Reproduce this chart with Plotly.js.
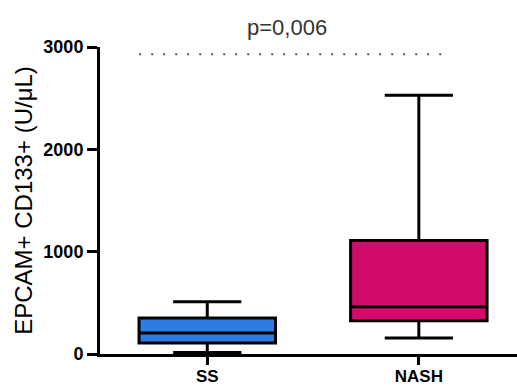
<!DOCTYPE html>
<html><head><meta charset="utf-8">
<script src="https://cdn.plot.ly/plotly-3.0.1.min.js"></script>
<style>html,body{margin:0;padding:0;background:#fff}#chart{width:517px;height:387px}</style>
</head><body><div id="chart"></div>
<script>
const groups = ["SS", "NASH"];
const lowerWhisker = [15, 157];
const q1 = [108, 324];
const median = [206, 461];
const q3 = [353, 1108];
const upperWhisker = [510, 2529];
const fillColors = ["#2b7de3", "#d20a69"];
const pText = "p=0,006";
const pLineY = [2930];
const yTicks = [0, 1000, 2000, 3000];

const traces = groups.map((g, i) => ({
  type: "box",
  name: g,
  x: [g],
  q1: [q1[i]], median: [median[i]], q3: [q3[i]],
  lowerfence: [lowerWhisker[i]], upperfence: [upperWhisker[i]],
  fillcolor: fillColors[i],
  line: {color: "#000", width: 3},
  width: 0.645,
  whiskerwidth: 0.5,
  boxpoints: false,
  hoverinfo: "skip",
  showlegend: false
}));

const layout = {
  width: 517, height: 387,
  margin: {l: 100, r: 0, t: 47, b: 33},
  paper_bgcolor: "#fff", plot_bgcolor: "#fff",
  font: {family: "Liberation Sans, Arial, sans-serif", color: "#000"},
  xaxis: {
    type: "category", categoryarray: groups,
    range: [-0.507, 1.464],
    showline: true, linecolor: "#000", linewidth: 3,
    ticks: "outside", ticklen: 8, tickwidth: 3, tickcolor: "#000",
    ticklabelstandoff: -3,
    showgrid: false, zeroline: false,
    tickfont: {size: 17, family: "Liberation Sans, Arial, sans-serif", weight: "bold"}
  },
  yaxis: {
    range: [0, 3000], tickvals: yTicks, ticktext: yTicks.map(String),
    showline: true, linecolor: "#000", linewidth: 3,
    ticks: "outside", ticklen: 10, tickwidth: 3, tickcolor: "#000",
    showgrid: false, zeroline: false,
    tickfont: {size: 18, family: "Liberation Sans, Arial, sans-serif", weight: "bold"},
    title: {text: "EPCAM+ CD133+ (U/μL)", font: {size: 24}, standoff: 4}
  },
  shapes: [{
    type: "line", xref: "paper", yref: "y",
    x0: 0.094, x1: 0.834, y0: pLineY[0], y1: pLineY[0],
    line: {color: "#555", width: 2, dash: "2px,10px"}
  }],
  annotations: [{
    text: pText, xref: "paper", yref: "paper", x: 0.448, y: 1.062,
    showarrow: false, font: {size: 22, color: "#333"}, xanchor: "center", yanchor: "middle"
  }]
};

Plotly.newPlot("chart", traces, layout, {displayModeBar: false, staticPlot: true});
</script></body></html>
